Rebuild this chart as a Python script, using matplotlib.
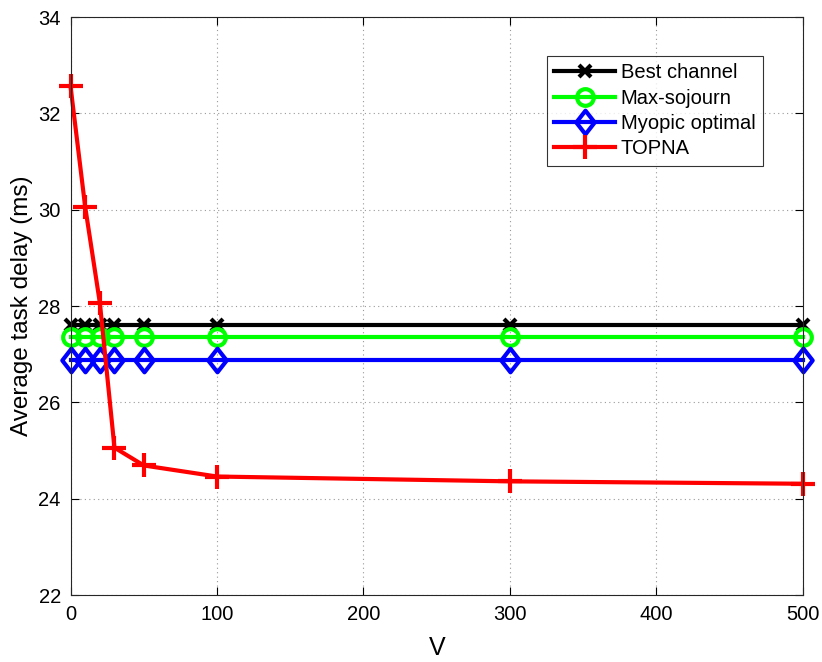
import matplotlib
matplotlib.use("Agg")
import matplotlib.pyplot as plt
from matplotlib.path import Path

V = [0, 10, 20, 30, 50, 100, 300, 500]
best_channel = [27.6] * 8
max_sojourn = [27.35] * 8
myopic_optimal = [26.88] * 8
topna = [32.56, 30.06, 28.07, 25.06, 24.69, 24.46, 24.36, 24.31]

plt.rcParams['font.family'] = ['Liberation Sans', 'DejaVu Sans']

diamond = Path([(0, 1), (0.78, 0), (0, -1), (-0.78, 0), (0, 1)],
               [Path.MOVETO, Path.LINETO, Path.LINETO, Path.LINETO, Path.CLOSEPOLY])

fig = plt.figure(figsize=(8.22, 6.62), dpi=100)
ax = fig.add_axes([0.0858, 0.1012, 0.891, 0.873])

lw = 3
ax.plot(V, best_channel, color='black', lw=lw, marker='x', ms=8, mew=3, label='Best channel', clip_on=False)
ax.plot(V, max_sojourn, color='#00ff00', lw=lw, marker='o', ms=12, mew=3, mfc='none', label='Max-sojourn', clip_on=False)
ax.plot(V, myopic_optimal, color='blue', lw=lw, marker=diamond, ms=17, mew=3, mfc='none', label='Myopic optimal', clip_on=False)
ax.plot(V, topna, color='red', lw=lw, marker='+', ms=17, mew=3, label='TOPNA', clip_on=False)

ax.set_xlim(0, 500)
ax.set_ylim(22, 34)
ax.set_xticks([0, 100, 200, 300, 400, 500])
ax.set_yticks([22, 24, 26, 28, 30, 32, 34])
ax.grid(True, linestyle=(0, (1, 3)), color='#999999', lw=0.8)
ax.tick_params(direction='in', top=True, right=True, labelsize=14.5, length=6, width=0.8, pad=7)
for s in ax.spines.values():
    s.set_linewidth(0.8)
    s.set_color('#262626')
ax.set_xlabel('V', fontsize=18, labelpad=9)
ax.set_ylabel('Average task delay (ms)', fontsize=17.5, labelpad=4)

leg = ax.legend(loc='upper right', bbox_to_anchor=(0.945, 0.9325), fontsize=14.5,
                frameon=True, fancybox=False, edgecolor='black', handlelength=3.0,
                borderpad=0.35, labelspacing=0.32, handletextpad=0.3, borderaxespad=0)
leg.get_frame().set_linewidth(0.8)

fig.savefig('out.png', dpi=100)
